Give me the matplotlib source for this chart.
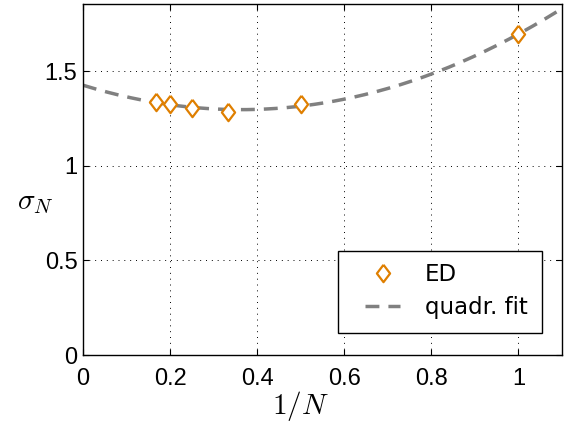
import numpy as np
import matplotlib
matplotlib.use('Agg')
import matplotlib.pyplot as plt
from matplotlib.patches import Rectangle

# 1/N for N = 6, 5, 4, 3, 2, 1 and the ED values of sigma_N
inv_n = [1/6, 1/5, 1/4, 1/3, 1/2, 1.0]
sigma_ed = [1.340, 1.328, 1.307, 1.286, 1.326, 1.697]

x_ticks = [0, 0.2, 0.4, 0.6, 0.8, 1]
x_ticklabels = ['0', '0.2', '0.4', '0.6', '0.8', '1']
y_ticks = [0, 0.5, 1, 1.5]
y_ticklabels = ['0', '0.5', '1', '1.5']

plt.rcParams['font.family'] = ['Liberation Sans', 'DejaVu Sans']
plt.rcParams['mathtext.fontset'] = 'cm'

fig = plt.figure(figsize=(5.7, 4.25), dpi=100)
ax = fig.add_axes([0.1456, 0.1647, 0.8404, 0.8259])

# quadratic fit of the ED data
coef = np.polyfit(inv_n, sigma_ed, 2)
xf = np.linspace(0, 1.1, 200)
ax.plot(xf, np.polyval(coef, xf), color='#808080', lw=2.5,
        linestyle=(0, (4, 2.6)), label='quadr. fit', zorder=2)

diamond = [(0, 1), (0.76, 0), (0, -1), (-0.76, 0), (0, 1)]
ax.plot(inv_n, sigma_ed, linestyle='none', marker=diamond, ms=12.5,
        mfc='white', mec='#df7f00', mew=1.6, label='ED', zorder=3)

ax.set_xlim(0, 1.1)
ax.set_ylim(0, 1.857)
ax.set_xticks(x_ticks)
ax.set_xticklabels(x_ticklabels)
ax.set_yticks(y_ticks)
ax.set_yticklabels(y_ticklabels)
ax.tick_params(direction='in', length=4, width=0.8, labelsize=17,
               top=True, right=True)
ax.tick_params(axis='x', pad=9)
ax.tick_params(axis='y', pad=4)
for s in ax.spines.values():
    s.set_linewidth(1.0)

ax.grid(True, color='black', linestyle=(0, (1, 5)), linewidth=0.7)

ax.set_xlabel('$1/N$', fontsize=21, va='center', ha='center')
ax.xaxis.set_label_coords(0.453, -0.145)
ax.set_ylabel('$\\sigma_N$', fontsize=21, rotation=0, va='center', ha='center')
ax.yaxis.set_label_coords(-0.100, 0.436)

# legend box drawn separately so it can be wider on the left, like the original
ax.add_patch(Rectangle((0.532, 0.0627), 0.426, 0.2336, transform=ax.transAxes,
                       facecolor='white', edgecolor='black', lw=1.0, zorder=4.5))
handles, labels = ax.get_legend_handles_labels()
leg = ax.legend(handles[::-1], labels[::-1], loc='lower right',
                bbox_to_anchor=(0.946, 0.078), frameon=False,
                prop={'family': 'DejaVu Sans', 'size': 16.5},
                borderpad=0.36, labelspacing=0.45, handlelength=1.53,
                handletextpad=1.09, borderaxespad=0)
leg.set_zorder(5)

fig.savefig('out.png', dpi=100)
